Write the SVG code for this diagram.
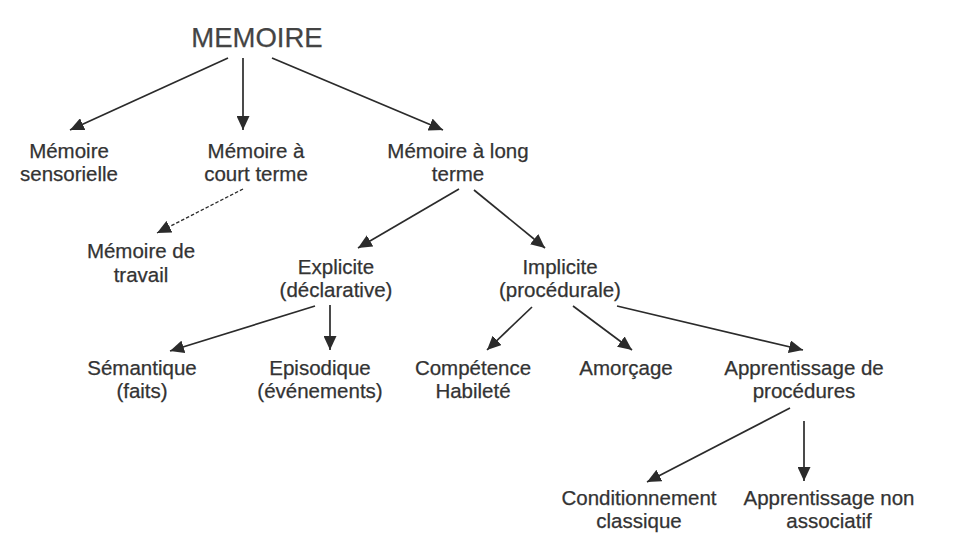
<svg xmlns="http://www.w3.org/2000/svg" width="961" height="533" viewBox="0 0 961 533">
<defs>
<marker id="ah" markerWidth="14" markerHeight="13" refX="14" refY="6.5" orient="auto" markerUnits="userSpaceOnUse">
<path d="M0,0 L14,6.5 L0,13 Z" fill="#2b2b2b"/>
</marker>
<style>
.t{font-family:"Liberation Sans",Arial,sans-serif;font-size:20.5px;fill:#333;text-anchor:middle;stroke:#333;stroke-width:0.25}
.big{font-size:27.5px;fill:#444;stroke:#444}
.c{stroke:#2b2b2b;stroke-width:1.7;fill:none;marker-end:url(#ah)}
.d{stroke-dasharray:3.5,2;stroke-width:1.3}
</style>
</defs>
<rect width="961" height="533" fill="#ffffff"/>
<g id="connectors">
<line class="c" x1="228" y1="58" x2="70" y2="130"/>
<line class="c" x1="243" y1="58" x2="243" y2="130"/>
<line class="c" x1="272" y1="58" x2="443" y2="130"/>
<line class="c d" x1="243" y1="189" x2="157" y2="233"/>
<line class="c" x1="459" y1="189" x2="358" y2="248"/>
<line class="c" x1="474" y1="190" x2="545" y2="248"/>
<line class="c" x1="315" y1="306" x2="170" y2="351"/>
<line class="c" x1="330" y1="305" x2="330" y2="350"/>
<line class="c" x1="532" y1="307" x2="487" y2="350"/>
<line class="c" x1="573" y1="306" x2="632" y2="350"/>
<line class="c" x1="617" y1="306" x2="803" y2="350"/>
<line class="c" x1="790" y1="408" x2="647" y2="482"/>
<line class="c" x1="804" y1="421" x2="804" y2="481"/>
</g>
<g id="memoire"><text class="t big" x="257" y="47">MEMOIRE</text></g>
<g id="sensorielle"><text class="t" x="69" y="158">Mémoire</text><text class="t" x="69" y="181">sensorielle</text></g>
<g id="court-terme"><text class="t" x="256" y="158">Mémoire à</text><text class="t" x="256" y="181">court terme</text></g>
<g id="long-terme"><text class="t" x="458" y="158">Mémoire à long</text><text class="t" x="458" y="181">terme</text></g>
<g id="travail"><text class="t" x="141" y="258">Mémoire de</text><text class="t" x="141" y="282">travail</text></g>
<g id="explicite"><text class="t" x="336" y="274">Explicite</text><text class="t" x="336" y="297">(déclarative)</text></g>
<g id="implicite"><text class="t" x="560" y="274">Implicite</text><text class="t" x="560" y="297">(procédurale)</text></g>
<g id="semantique"><text class="t" x="142" y="375">Sémantique</text><text class="t" x="142" y="398">(faits)</text></g>
<g id="episodique"><text class="t" x="320" y="375">Episodique</text><text class="t" x="320" y="398">(événements)</text></g>
<g id="competence"><text class="t" x="473" y="375">Compétence</text><text class="t" x="473" y="398">Habileté</text></g>
<g id="amorcage"><text class="t" x="626" y="375">Amorçage</text></g>
<g id="apprentissage-procedures"><text class="t" x="804" y="375">Apprentissage de</text><text class="t" x="804" y="398">procédures</text></g>
<g id="conditionnement"><text class="t" x="639" y="505">Conditionnement</text><text class="t" x="639" y="528">classique</text></g>
<g id="non-associatif"><text class="t" x="829" y="505">Apprentissage non</text><text class="t" x="829" y="528">associatif</text></g>
</svg>
